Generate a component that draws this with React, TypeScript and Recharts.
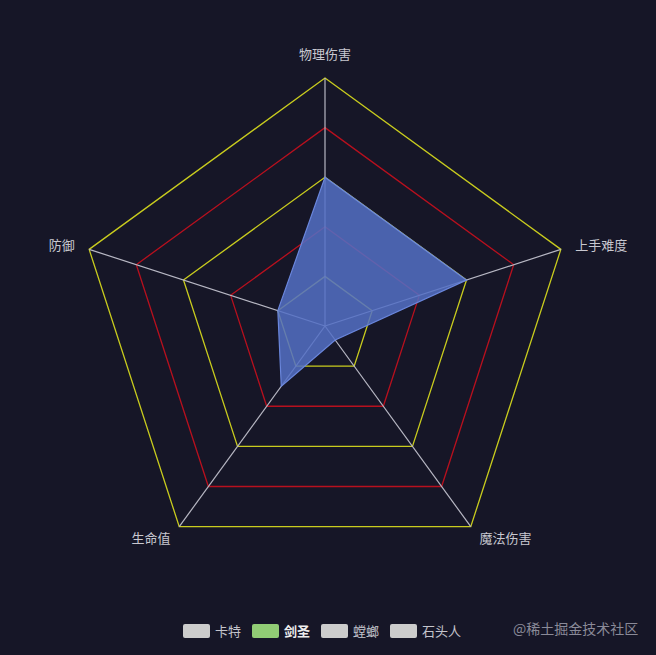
import React from "react";
import {
  RadarChart,
  Radar,
  PolarGrid,
  PolarAngleAxis,
  PolarRadiusAxis,
} from "recharts";

const indicators = ["物理伤害", "上手难度", "魔法伤害", "生命值", "防御"];
const jianshengValues = [60, 60, 7, 30, 20];
const heroNames = ["卡特", "剑圣", "螳螂", "石头人"];
const activeHero = "剑圣";
const ringValues = [20, 40, 60, 80, 100];
const MAX_VALUE = 100;

const BG = "#161627";
const YELLOW = "#c9cc1e";
const RED = "#b8101e";
const SPOKE = "#b8b8c4";
const LABEL = "#c8c8d0";
const AREA = "#5470c6";

const CX = 325;
const CY = 326;
const OUTER = 248;

const data = indicators.map((name, i) => ({
  name,
  jiansheng: jianshengValues[i],
}));

const toRadius = (v: number) => (OUTER * v) / MAX_VALUE;
const yellowRings = ringValues.filter((_, i) => i % 2 === 0).map(toRadius);
const redRings = ringValues.filter((_, i) => i % 2 === 1).map(toRadius);

function AngleTick(props: any) {
  const { payload, cx, cy, radius } = props;
  const angle = (payload.coordinate * Math.PI) / 180;
  const r = (radius ?? OUTER) + 15;
  const cos = Math.cos(angle);
  const sin = Math.sin(angle);
  const x = (cx ?? CX) + r * cos;
  let y = (cy ?? CY) - r * sin;
  const anchor = cos > 0.05 ? "start" : cos < -0.05 ? "end" : "middle";
  if (sin > 0.9) y -= 10;
  else if (sin < 0) y -= 1;
  return (
    <text
      x={x}
      y={y}
      textAnchor={anchor}
      dominantBaseline="central"
      fill={LABEL}
      fontSize={13}
    >
      {payload.value}
    </text>
  );
}

export default function App() {
  return (
    <div
      style={{
        position: "fixed",
        left: 0,
        top: 0,
        width: 656,
        height: 655,
        background: BG,
        fontFamily: "'Noto Sans CJK SC', 'Noto Sans', sans-serif",
      }}
    >
      <RadarChart
        width={656}
        height={655}
        data={data}
        cx={CX}
        cy={CY}
        outerRadius={OUTER}
        margin={{ top: 0, right: 0, bottom: 0, left: 0 }}
      >
        <PolarGrid
          gridType="polygon"
          polarRadius={yellowRings}
          stroke={YELLOW}
          strokeWidth={1.3}
          radialLines={false}
        />
        <PolarGrid
          gridType="polygon"
          polarRadius={redRings}
          stroke={RED}
          strokeWidth={1.3}
          radialLines={false}
        />
        <PolarGrid
          gridType="polygon"
          polarRadius={[]}
          stroke={SPOKE}
          strokeWidth={1.2}
        />
        <PolarAngleAxis
          dataKey="name"
          tick={<AngleTick />}
          tickLine={false}
          axisLine={false}
        />
        <PolarRadiusAxis
          domain={[0, MAX_VALUE]}
          tickCount={6}
          tick={false}
          axisLine={false}
        />
        <Radar
          name={activeHero}
          dataKey="jiansheng"
          stroke="#6a86dc"
          strokeWidth={1.2}
          fill={AREA}
          fillOpacity={0.85}
          isAnimationActive={false}
        />
      </RadarChart>
      <div
        style={{
          position: "absolute",
          left: 183,
          top: 621,
          display: "flex",
          alignItems: "center",
          fontSize: 13,
        }}
      >
        {heroNames.map((name) => {
          const active = name === activeHero;
          return (
            <div
              key={name}
              style={{ display: "flex", alignItems: "center", marginRight: 11 }}
            >
              <span
                style={{
                  display: "inline-block",
                  width: 27,
                  height: 14,
                  borderRadius: 2,
                  background: active ? "#91cc75" : "#cccccc",
                  marginRight: 5,
                }}
              />
              <span
                style={{
                  color: active ? "#eeeeee" : "#c4c4cc",
                  fontWeight: active ? 600 : 400,
                }}
              >
                {name}
              </span>
            </div>
          );
        })}
      </div>
      <div
        style={{
          position: "absolute",
          left: 513,
          top: 618,
          fontSize: 14,
          color: "#8a8a98",
        }}
      >
        @稀土掘金技术社区
      </div>
    </div>
  );
}
